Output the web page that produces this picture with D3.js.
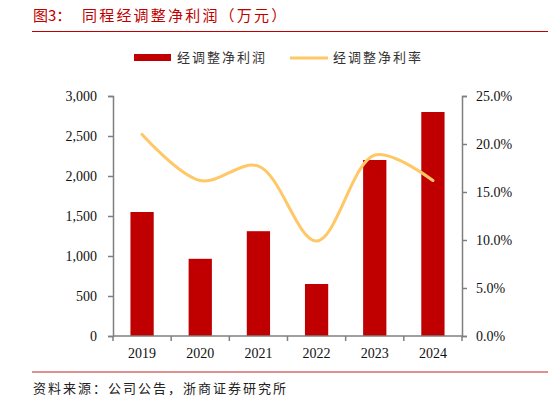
<!DOCTYPE html>
<html>
<head>
<meta charset="utf-8">
<script src="https://cdn.jsdelivr.net/npm/d3@7"></script>
<style>
  body { margin: 0; background: #fff; }
  svg { display: block; }
</style>
</head>
<body>
<svg id="chart" width="548" height="402"></svg>
<script>
// -- data -- //
let years = ["2019", "2020", "2021", "2022", "2023", "2024"];
let profit = [1550, 965, 1310, 650, 2200, 2800];        // 万元
let margin = [21.0, 16.2, 17.7, 9.9, 18.85, 16.2];      // %
let leftTicks = [0, 500, 1000, 1500, 2000, 2500, 3000];
let rightTicks = [0, 5, 10, 15, 20, 25];

let svg = d3.select("#chart");
let cjk = "'Noto Sans CJK SC', sans-serif";
let serif = "'Liberation Serif', 'DejaVu Serif', serif";
let axisColor = "#7f7f7f";

// -- title + rules -- //
let title = svg.append("text")
    .attr("y", 21)
    .style("font-family", cjk).style("font-size", "15px")
    .attr("fill", "#c00000");
title.append("tspan").attr("x", 33).text("图3：");
title.append("tspan").attr("x", 82).style("letter-spacing", "2.2px").text("同程经调整净利润（万元）");
svg.append("line")
    .attr("x1", 32).attr("x2", 548).attr("y1", 31.5).attr("y2", 31.5)
    .attr("stroke", "#c00000").attr("stroke-width", 1);
svg.append("line")
    .attr("x1", 32).attr("x2", 548).attr("y1", 372).attr("y2", 372)
    .attr("stroke", "#d96a6a").attr("stroke-width", 1.5);
svg.append("text")
    .attr("x", 33).attr("y", 393)
    .style("font-family", cjk).style("font-size", "13px")
    .style("letter-spacing", "2px")
    .attr("fill", "#222")
    .text("资料来源：公司公告，浙商证券研究所");

// -- scales -- //
let x = d3.scaleBand().domain(years).range([113, 462]).paddingInner(0.6).paddingOuter(0.3);
let yL = d3.scaleLinear().domain([0, 3000]).range([336, 96]);
let yR = d3.scaleLinear().domain([0, 25]).range([336, 96]);

// -- bars -- //
svg.selectAll(".bar")
    .data(years)
    .enter()
    .append("rect")
    .attr("class", "bar")
    .attr("x", d => x(d))
    .attr("y", (d, i) => yL(profit[i]))
    .attr("width", x.bandwidth())
    .attr("height", (d, i) => yL(0) - yL(profit[i]))
    .attr("fill", "#c00000");

// -- smoothed margin line -- //
let line = d3.line()
    .x((d, i) => x(years[i]) + x.bandwidth() / 2)
    .y(d => yR(d))
    .curve(d3.curveCatmullRom.alpha(0.5));
svg.append("path")
    .datum(margin)
    .attr("d", line)
    .attr("fill", "none")
    .attr("stroke", "#ffc766")
    .attr("stroke-width", 3)
    .attr("stroke-linecap", "round");

// -- axes -- //
let styleAxis = (g) => {
    g.selectAll("path, line").attr("stroke", axisColor).attr("stroke-width", 1.5);
    g.selectAll("text").style("font-family", serif).style("font-size", "14px").attr("fill", "#111");
};

svg.append("g")
    .attr("transform", "translate(113,0)")
    .call(d3.axisLeft(yL).tickValues(leftTicks).tickSize(5).tickSizeOuter(5).tickPadding(11)
        .tickFormat(d3.format(",")))
    .call(styleAxis);

svg.append("g")
    .attr("transform", "translate(462,0)")
    .call(d3.axisRight(yR).tickValues(rightTicks).tickSize(5).tickSizeOuter(5).tickPadding(9)
        .tickFormat(d => d.toFixed(1) + "%"))
    .call(styleAxis);

// bottom axis: ticks at band boundaries
let xAxisG = svg.append("g").attr("transform", "translate(0,336)");
xAxisG.call(d3.axisBottom(x).tickSize(0).tickPadding(12)).call(styleAxis);
xAxisG.select(".domain").attr("d", "M113,0H462");
xAxisG.selectAll(".sep")
    .data(d3.range(years.length + 1))
    .enter()
    .append("line")
    .attr("class", "sep")
    .attr("x1", i => 113 + i * (462 - 113) / years.length)
    .attr("x2", i => 113 + i * (462 - 113) / years.length)
    .attr("y1", 0).attr("y2", 5)
    .attr("stroke", axisColor).attr("stroke-width", 1.5);

// -- legend -- //
let legend = svg.append("g").style("font-family", cjk).style("font-size", "13px")
    .style("letter-spacing", "2px");
legend.append("rect")
    .attr("x", 134).attr("y", 54).attr("width", 37).attr("height", 7)
    .attr("fill", "#c00000");
legend.append("text")
    .attr("x", 177).attr("y", 62).attr("fill", "#333")
    .text("经调整净利润");
legend.append("line")
    .attr("x1", 290).attr("x2", 328).attr("y1", 58).attr("y2", 58)
    .attr("stroke", "#ffc766").attr("stroke-width", 3);
legend.append("text")
    .attr("x", 333).attr("y", 62).attr("fill", "#333")
    .text("经调整净利率");
</script>
</body>
</html>
